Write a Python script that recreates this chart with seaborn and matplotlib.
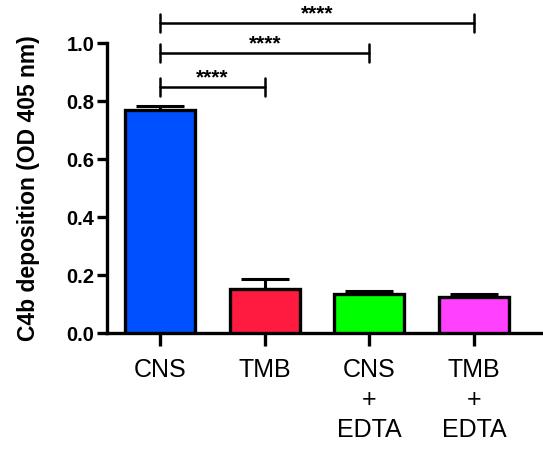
import matplotlib
matplotlib.use("Agg")
import matplotlib.pyplot as plt
import seaborn as sns
import pandas as pd

groups = ["CNS", "TMB", "CNS\n+\nEDTA", "TMB\n+\nEDTA"]
means = [0.770, 0.152, 0.135, 0.124]
sems = [0.013, 0.034, 0.010, 0.011]
colors = ["#0050FF", "#FF1A40", "#00FF00", "#FF40FF"]

# comparisons: (group a, group b, bracket height, label)
comparisons = [(0, 1, 0.848, "****"), (0, 2, 0.966, "****"), (0, 3, 1.069, "****")]

df = pd.DataFrame({"group": groups, "value": means})

sns.set_style("ticks")
plt.rcParams["font.family"] = ["Liberation Sans", "DejaVu Sans"]
plt.rcParams["text.color"] = "black"
plt.rcParams["xtick.color"] = "black"
plt.rcParams["ytick.color"] = "black"
plt.rcParams["axes.labelcolor"] = "black"
plt.rcParams["axes.edgecolor"] = "black"

fig = plt.figure(figsize=(5.43, 4.49), dpi=100)
ax = fig.add_axes([0.197, 0.258, 0.82, 0.646])

sns.barplot(data=df, x="group", y="value", hue="group", palette=colors,
            saturation=1, legend=False, width=0.67, edgecolor="black",
            linewidth=2.4, ax=ax, zorder=3)

ax.errorbar(range(len(groups)), means, yerr=[[0] * len(sems), sems],
            fmt="none", ecolor="black", elinewidth=2.2, capsize=17,
            capthick=2.2, zorder=2)

for a, b, h, lab in comparisons:
    ax.plot([a, b], [h, h], color="black", lw=1.8, clip_on=False)
    for x in (a, b):
        ax.plot([x, x], [h - 0.03, h + 0.03], color="black", lw=1.8, clip_on=False)
    ax.text((a + b) / 2, h + 0.0, lab, ha="center", va="bottom",
            fontsize=15, fontweight="bold", clip_on=False)

ax.set_xlim(-0.51, 3.75)
ax.set_ylim(0, 1.0)
ax.set_yticks([0.0, 0.2, 0.4, 0.6, 0.8, 1.0])
ax.set_yticklabels([f"{v:.1f}" for v in [0.0, 0.2, 0.4, 0.6, 0.8, 1.0]],
                   fontweight="bold", fontsize=14.5)
ax.set_xticks(range(len(groups)))
ax.set_xticklabels(groups, fontsize=18, linespacing=1.3)
ax.set_xlabel("")
ax.set_ylabel("C4b deposition (OD 405 nm)", fontsize=16.5, fontweight="bold",
              labelpad=19)

sns.despine(ax=ax)
ax.spines["left"].set_linewidth(2.4)
ax.spines["bottom"].set_linewidth(2.4)
ax.tick_params(axis="y", length=7, width=2.4, pad=2)
ax.tick_params(axis="x", length=9, width=2.4, pad=9)

fig.savefig("out.png", dpi=100)
